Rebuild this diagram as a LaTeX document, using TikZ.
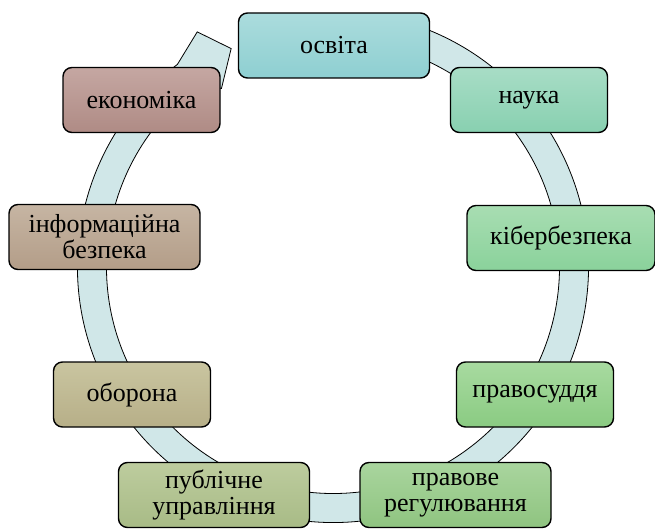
\documentclass[tikz,border=0pt]{standalone}
\usepackage{fontspec}
\setmainfont{Liberation Serif}
\newfontfamily\stagefont{Liberation Serif}
\usepackage{tikz}
\usepackage{xcolor}
\definecolor{ringfill}{HTML}{D0E7E8}
\definecolor{osvitaA}{HTML}{ABDCDD}
\definecolor{osvitaB}{HTML}{8ECFD1}
\definecolor{naukaA}{HTML}{A8DDC6}
\definecolor{naukaB}{HTML}{88D0B0}
\definecolor{kiberA}{HTML}{A8DDB2}
\definecolor{kiberB}{HTML}{8AD29B}
\definecolor{pravA}{HTML}{A8DAA0}
\definecolor{pravB}{HTML}{8ACB82}
\definecolor{regA}{HTML}{A9D59E}
\definecolor{regB}{HTML}{8FC480}
\definecolor{publA}{HTML}{BDCC9E}
\definecolor{publB}{HTML}{A8BB86}
\definecolor{oborA}{HTML}{C9C5A0}
\definecolor{oborB}{HTML}{B7AF88}
\definecolor{infoA}{HTML}{C6B5A3}
\definecolor{infoB}{HTML}{B39D88}
\definecolor{ekonA}{HTML}{C5A7A2}
\definecolor{ekonB}{HTML}{AF8B85}
\tikzset{stage/.style={draw=black, line width=1.4pt, rounded corners=9pt,
   minimum height=65pt, inner sep=2pt, align=center,
   font=\stagefont\fontsize{26}{26}\selectfont},
 narrowbox/.style={minimum width=157pt},
 widebox/.style={minimum width=191pt},
 fillpair/.style 2 args={top color=#1, bottom color=#2},
 ring/.style={draw=black, line width=0.8pt, fill=ringfill},
 }

\begin{document}
\begin{tikzpicture}[x=1pt, y=1pt]
        \useasboundingbox (0,0) rectangle (655,528);
        \begin{scope}[shift={(333,261)}]
        \draw[ring] (78:255.5pt) arc[start angle=78, end angle=-232.5, radius=255.5pt]
            -- (120:271.5pt) -- (115:241pt) -- (122:210.5pt) -- (126:226.5pt)
            arc[start angle=-234, end angle=78, radius=226.5pt] -- cycle;
        \end{scope}
        \node[stage, widebox, fillpair={osvitaA}{osvitaB}] (osvita) at (334,482.5) {освіта};
        \node[stage, narrowbox, fillpair={naukaA}{naukaB}] (nauka) at (529,428) {наука};
        \node[stage, widebox, minimum width=188pt, fillpair={kiberA}{kiberB}] (kiber) at (561,290) {кібербезпека};
        \node[stage, narrowbox, fillpair={pravA}{pravB}] (pravosuddia) at (535,133.5) {правосуддя};
        \node[stage, widebox, fillpair={regA}{regB}] (reguliuvannia) at (455.5,33) {правове\\регулювання};
        \node[stage, widebox, fillpair={publA}{publB}] (upravlinnia) at (214,33) {публічне\\управління};
        \node[stage, narrowbox, fillpair={oborA}{oborB}] (oborona) at (132,133.5) {оборона};
        \node[stage, widebox, fillpair={infoA}{infoB}] (bezpeka) at (104.5,291) {інформаційна\\безпека};
        \node[stage, narrowbox, fillpair={ekonA}{ekonB}] (ekonomika) at (141.5,428) {економіка};
    \end{tikzpicture}
\end{document}
